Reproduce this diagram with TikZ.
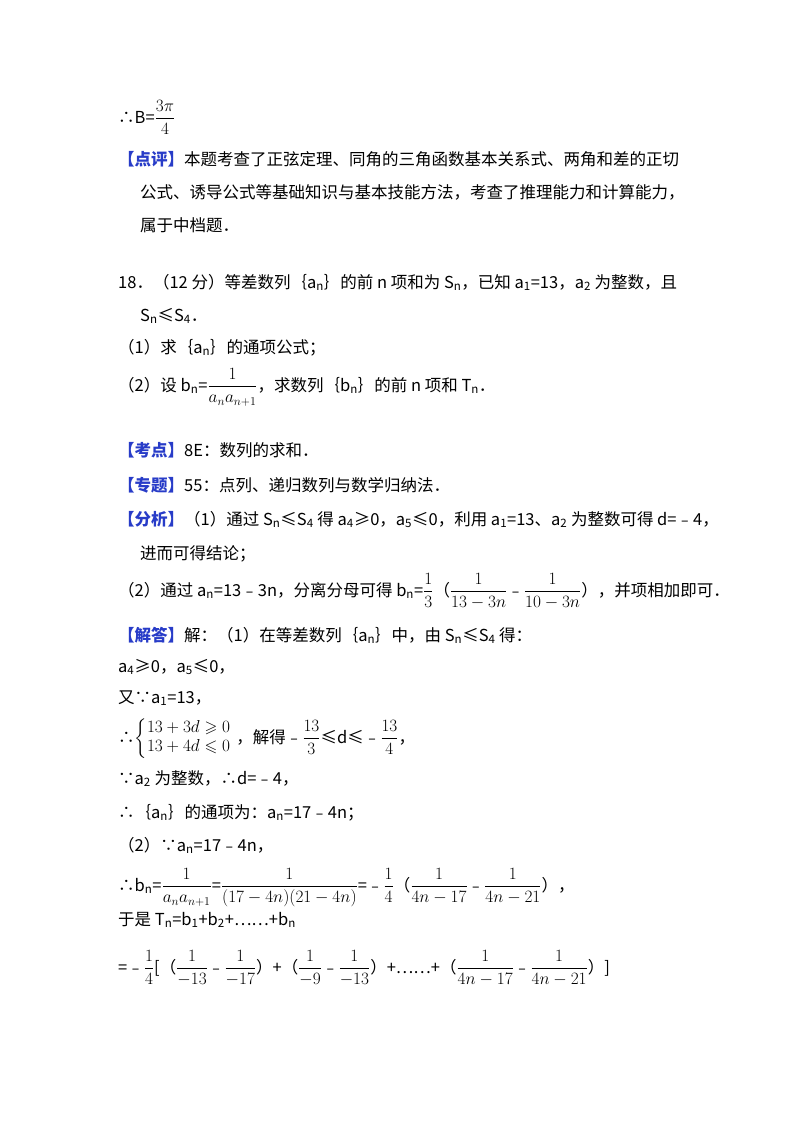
\documentclass[tikz,border=0pt]{standalone}
\usepackage{amsmath,amssymb}
\usepackage{fontspec}
\setmainfont{Noto Sans CJK SC}
\newcommand\sbs[1]{\textsubscript{#1}}
\newcommand\hd[1]{\textcolor{hdblue}{\textbf{【#1】}}}
\definecolor{hdblue}{RGB}{40,60,200}
\begin{document}
\begin{tikzpicture}[x=1pt,y=-1pt]
\tikzset{ln/.style={anchor=base west, inner sep=0, font=\fontsize{16.5}{19}\selectfont}}
\useasboundingbox (0,0) rectangle (800,1132);
\fill[white] (0,0) rectangle (800,1132);
\node[ln] (l1) at (118,123) {∴B=$\dfrac{3\pi}{4}$};
\node[ln] (l2) at (118,165) {\hd{点评}本题考查了正弦定理、同角的三角函数基本关系式、两角和差的正切};
\node[ln] (l3) at (140,198) {公式、诱导公式等基础知识与基本技能方法，考查了推理能力和计算能力，};
\node[ln] (l4) at (140,231) {属于中档题．};
\node[ln] (l5) at (118,288) {18．（12 分）等差数列｛a\sbs{n}｝的前 n 项和为 S\sbs{n}，已知 a\sbs{1}=13，a\sbs{2} 为整数，且};
\node[ln] (l6) at (140,321) {S\sbs{n}≤S\sbs{4}．};
\node[ln] (l7) at (118,353) {（1）求｛a\sbs{n}｝的通项公式；};
\node[ln] (l8) at (118,391) {（2）设 b\sbs{n}=$\dfrac{1}{a_n a_{n+1}}$，求数列｛b\sbs{n}｝的前 n 项和 T\sbs{n}．};
\node[ln] (l9) at (118,456) {\hd{考点}8E：数列的求和．};
\node[ln] (l10) at (118,491) {\hd{专题}55：点列、递归数列与数学归纳法．};
\node[ln] (l11) at (118,525) {\hd{分析}（1）通过 S\sbs{n}≤S\sbs{4} 得 a\sbs{4}≥0，a\sbs{5}≤0，利用 a\sbs{1}=13、a\sbs{2} 为整数可得 d=﹣4，};
\node[ln] (l12) at (140,559) {进而可得结论；};
\node[ln] (l13) at (118,596) {（2）通过 a\sbs{n}=13﹣3n，分离分母可得 b\sbs{n}=$\dfrac13$（$\dfrac{1}{13-3n}$﹣$\dfrac{1}{10-3n}$），并项相加即可．};
\node[ln] (l14) at (118,641) {\hd{解答}解：（1）在等差数列｛a\sbs{n}｝中，由 S\sbs{n}≤S\sbs{4} 得：};
\node[ln] (l15) at (118,672) {a\sbs{4}≥0，a\sbs{5}≤0，};
\node[ln] (l16) at (118,703) {又∵a\sbs{1}=13，};
\node[ln] (l17) at (118,743) {∴$\left\{\begin{array}{@{}l}13+3d\geqslant0\\13+4d\leqslant0\end{array}\right.$，解得﹣$\dfrac{13}{3}$≤d≤﹣$\dfrac{13}{4}$，};
\node[ln] (l18) at (118,784) {∵a\sbs{2} 为整数，∴d=﹣4，};
\node[ln] (l19) at (118,818) {∴｛a\sbs{n}｝的通项为：a\sbs{n}=17﹣4n；};
\node[ln] (l20) at (118,851) {（2）∵a\sbs{n}=17﹣4n，};
\node[ln] (l21) at (118,891) {∴b\sbs{n}=$\dfrac{1}{a_n a_{n+1}}$=$\dfrac{1}{(17-4n)(21-4n)}$=﹣$\dfrac14$（$\dfrac{1}{4n-17}$﹣$\dfrac{1}{4n-21}$），};
\node[ln] (l22) at (118,925) {于是 T\sbs{n}=b\sbs{1}+b\sbs{2}+……+b\sbs{n}};
\node[ln] (l23) at (118,973) {=﹣$\dfrac14$[（$\dfrac{1}{-13}$﹣$\dfrac{1}{-17}$）+（$\dfrac{1}{-9}$﹣$\dfrac{1}{-13}$）+……+（$\dfrac{1}{4n-17}$﹣$\dfrac{1}{4n-21}$）]};
\end{tikzpicture}
\end{document}
